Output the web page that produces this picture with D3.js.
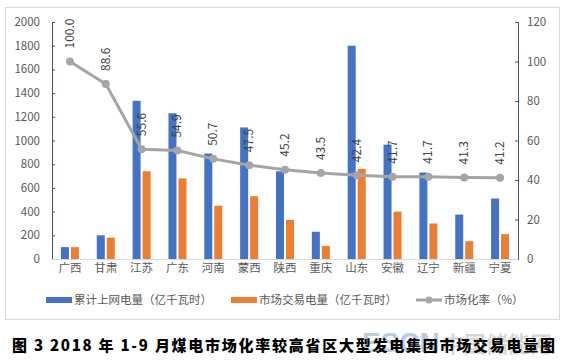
<!DOCTYPE html>
<html><head><meta charset="utf-8">
<script src="https://cdn.jsdelivr.net/npm/d3@7"></script>
<style>body{margin:0;background:#fff}svg{display:block}</style>
</head><body>
<svg id="c" width="566" height="361"></svg>
<script>
const categories = ["广西","甘肃","江苏","广东","河南","蒙西","陕西","重庆","山东","安徽","辽宁","新疆","宁夏"];
const gridPower = [100,200,1335,1230,890,1110,740,230,1800,965,730,375,510];
const tradePower = [100,180,740,680,450,530,330,110,760,400,300,150,210];
const marketRate = [100.0,88.6,55.6,54.9,50.7,47.5,45.2,43.5,42.4,41.7,41.7,41.3,41.2];
const leftTicks = [0,200,400,600,800,1000,1200,1400,1600,1800,2000];
const rightTicks = [0,20,40,60,80,100,120];
const seriesNames = ["累计上网电量（亿千瓦时）","市场交易电量（亿千瓦时）","市场化率（%）"];
const caption = "图 3 2018 年 1-9 月煤电市场化率较高省区大型发电集团市场交易电量图";

const svg = d3.select("#c");
const font = "'Noto Sans CJK SC','Liberation Sans',sans-serif";
const blue = "#4472C4", orange = "#ED7D31", gray = "#A5A5A5", txt = "#595959";

svg.append("rect").attr("x",5.5).attr("y",7.5).attr("width",554).attr("height",312)
  .attr("fill","#fff").attr("stroke","#D9D9D9");

const x = d3.scaleBand().domain(categories).range([52,518]);
const yL = d3.scaleLinear().domain([0,2000]).range([259,22]);
const yR = d3.scaleLinear().domain([0,120]).range([259,22]);

const gl = svg.append("g").attr("transform","translate(52,0)")
  .call(d3.axisRight(yL).tickValues(leftTicks).tickSize(3).tickFormat(""));
gl.selectAll("path,line").attr("stroke","#44546A");
svg.append("g").selectAll("text").data(leftTicks).join("text")
  .attr("x",40).attr("y",d=>yL(d)).attr("dy","0.35em").attr("text-anchor","end")
  .attr("font-family",font).attr("font-size",11.5).attr("fill",txt).text(d=>d);

const gr = svg.append("g").attr("transform","translate(518,0)")
  .call(d3.axisLeft(yR).tickValues(rightTicks).tickSize(3).tickFormat(""));
gr.selectAll("path,line").attr("stroke","#44546A");
svg.append("g").selectAll("text").data(rightTicks).join("text")
  .attr("x",527).attr("y",d=>yR(d)).attr("dy","0.35em").attr("text-anchor","start")
  .attr("font-family",font).attr("font-size",11.5).attr("fill",txt).text(d=>d);

svg.append("line").attr("x1",52).attr("x2",518).attr("y1",259.5).attr("y2",259.5).attr("stroke","#D9D9D9");

const bw = 8;
svg.append("g").selectAll("rect").data(categories).join("rect")
  .attr("x",d=>x(d)+x.bandwidth()/2-bw-1).attr("width",bw)
  .attr("y",(d,i)=>yL(gridPower[i])).attr("height",(d,i)=>yL(0)-yL(gridPower[i]))
  .attr("fill",blue);
svg.append("g").selectAll("rect").data(categories).join("rect")
  .attr("x",d=>x(d)+x.bandwidth()/2+1).attr("width",bw)
  .attr("y",(d,i)=>yL(tradePower[i])).attr("height",(d,i)=>yL(0)-yL(tradePower[i]))
  .attr("fill",orange);

const cx = d=>x(d)+x.bandwidth()/2;
svg.append("path").datum(categories)
  .attr("d",d3.line().x(cx).y((d,i)=>yR(marketRate[i])))
  .attr("fill","none").attr("stroke",gray).attr("stroke-width",3).attr("stroke-linejoin","round");
svg.append("g").selectAll("circle").data(categories).join("circle")
  .attr("cx",cx).attr("cy",(d,i)=>yR(marketRate[i])).attr("r",4).attr("fill",gray);
svg.append("g").selectAll("text").data(categories).join("text")
  .attr("transform",(d,i)=>`translate(${cx(d)+4},${yR(marketRate[i])-13}) rotate(-90)`)
  .attr("text-anchor","start").attr("font-family",font).attr("font-size",12)
  .attr("fill","#404040").text((d,i)=>marketRate[i].toFixed(1));

svg.append("g").selectAll("text").data(categories).join("text")
  .attr("x",cx).attr("y",272).attr("text-anchor","middle")
  .attr("font-family",font).attr("font-size",11.5).attr("fill",txt).text(d=>d);

const lg = svg.append("g").attr("font-family",font).attr("font-size",11.5).attr("fill",txt);
lg.append("rect").attr("x",46).attr("y",297).attr("width",26).attr("height",6).attr("fill",blue);
lg.append("text").attr("x",74).attr("y",300).attr("dy","0.35em").text(seriesNames[0]);
lg.append("rect").attr("x",231).attr("y",297).attr("width",26).attr("height",6).attr("fill",orange);
lg.append("text").attr("x",259).attr("y",300).attr("dy","0.35em").text(seriesNames[1]);
lg.append("line").attr("x1",416).attr("x2",442).attr("y1",300).attr("y2",300).attr("stroke",gray).attr("stroke-width",3);
lg.append("circle").attr("cx",429).attr("cy",300).attr("r",3.5).attr("fill",gray);
lg.append("text").attr("x",444).attr("y",300).attr("dy","0.35em").text(seriesNames[2]);

const wm = svg.append("g").attr("opacity",0.4);
wm.append("text").attr("x",362).attr("y",352).attr("font-family","'Liberation Sans',sans-serif")
  .attr("font-weight","bold").attr("font-size",28).attr("fill","#5B7FB5").text("ESCN");
wm.append("text").attr("x",442).attr("y",352).attr("font-family",font)
  .attr("font-weight","bold").attr("font-size",22).attr("fill","#9A9A9A").text("中国储能网");

svg.append("text").attr("x",12).attr("y",351).attr("font-family",font)
  .attr("font-weight",900).attr("font-size",15).attr("fill","#000")
  .attr("textLength",543).attr("lengthAdjust","spacing").text(caption);
</script>
</body></html>
